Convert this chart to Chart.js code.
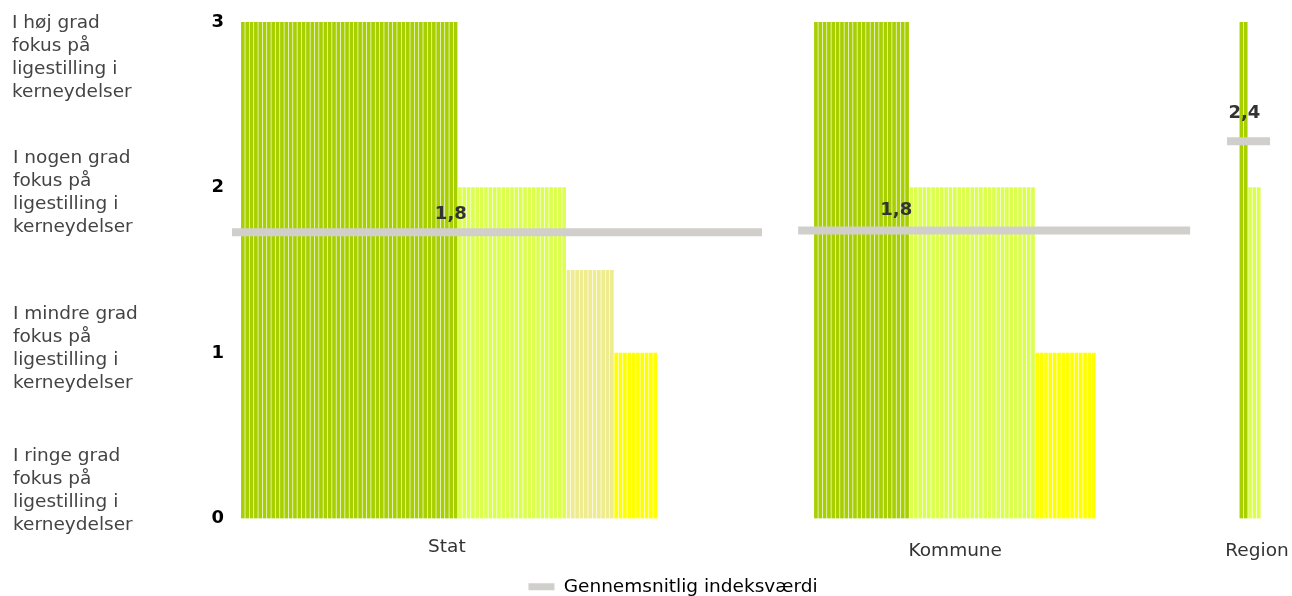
<!DOCTYPE html>
<html>
<head>
<meta charset="utf-8">
<script src="https://cdn.jsdelivr.net/npm/chart.js@4.4.1/dist/chart.umd.min.js"></script>
<style>
  html, body { margin: 0; padding: 0; background: #fff; }
</style>
</head>
<body>
<canvas id="chart" width="1292" height="596"></canvas>
<script>
// Data (one bar per response)
const groupNames = ['Stat', 'Kommune', 'Region'];
const statValues = [
    3, 3, 3, 3, 3, 3, 3, 3, 3, 3, 3, 3, 3, 3, 3, 3, 3, 3, 3, 3, 3, 3, 3, 3, 3,
    3, 3, 3, 3, 3, 3, 3, 3, 3, 3, 3, 3, 3, 3, 3, 3, 3, 3, 3, 3, 3, 3, 3, 3, 3,
    2, 2, 2, 2, 2, 2, 2, 2, 2, 2, 2, 2, 2, 2, 2, 2, 2, 2, 2, 2, 2, 2, 2, 2, 2,
    1.5, 1.5, 1.5, 1.5, 1.5, 1.5, 1.5, 1.5, 1.5, 1.5, 1.5,
    1, 1, 1, 1, 1, 1, 1, 1, 1, 1
];
const kommuneValues = [
    3, 3, 3, 3, 3, 3, 3, 3, 3, 3, 3, 3, 3, 3, 3, 3, 3, 3, 3, 3, 3, 3,
    2, 2, 2, 2, 2, 2, 2, 2, 2, 2, 2, 2, 2, 2, 2, 2, 2, 2, 2, 2, 2, 2, 2, 2, 2, 2, 2, 2, 2,
    1, 1, 1, 1, 1, 1, 1, 1, 1, 1, 1, 1, 1, 1
];
const regionValues = [3, 3, 2, 2, 2];
const avgValues = [1.73, 1.74, 2.28];
const avgLabels = ['1,8', '1,8', '2,4'];
const yTickValues = [0, 1, 2, 3];
const levelLabels = [
    ['I høj grad', 'fokus på', 'ligestilling i', 'kerneydelser'],
    ['I nogen grad', 'fokus på', 'ligestilling i', 'kerneydelser'],
    ['I mindre grad', 'fokus på', 'ligestilling i', 'kerneydelser'],
    ['I ringe grad', 'fokus på', 'ligestilling i', 'kerneydelser']
];
const legendText = 'Gennemsnitlig indeksværdi';

// Layout (slot units on the x axis)
const groupStart = [0, 132, 230];
const avgSpan = [[-2.5, 119.6], [127.9, 218.2], [226.7, 236.6]];
const avgLabelAt = [[47.9, 1.835], [150.5, 1.86], [230.7, 2.45]];
const groupLabelAt = [[47, 547], [164.1, 551], [233.6, 551]];
const levelLabelTop = [23, 158, 314, 456];

const barColors = { 3: '#a8d000', 2: '#dcff4e', 1.5: '#eeec8e', 1: '#ffff00' };
const lineColor = '#d0cfcb';
const FONT = '"DejaVu Sans", Verdana, sans-serif';

const groupValues = [statValues, kommuneValues, regionValues];

const barDatasets = groupValues.map((vals, g) => ({
    type: 'bar',
    label: groupNames[g],
    data: vals.map((v, i) => ({ x: groupStart[g] + i, y: v })),
    backgroundColor: ctx => barColors[ctx.raw ? ctx.raw.y : 3],
    barThickness: 3,
    grouped: false,
    order: 2
}));

const lineDatasets = avgValues.map((v, g) => ({
    type: 'line',
    label: 'Gennemsnit ' + groupNames[g],
    data: [{ x: avgSpan[g][0], y: v }, { x: avgSpan[g][1], y: v }],
    borderColor: lineColor,
    borderWidth: 8,
    borderCapStyle: 'butt',
    pointRadius: 0,
    order: 0
}));

// Draw the text labels around the plot
const textPlugin = {
    id: 'texts',
    afterDatasetsDraw(chart) {
        const { ctx, scales } = chart;
        ctx.save();
        ctx.textBaseline = 'middle';

        // average value labels
        ctx.font = 'bold 18px ' + FONT;
        ctx.fillStyle = '#333';
        ctx.textAlign = 'center';
        avgLabels.forEach((t, g) => {
            ctx.fillText(t, scales.x.getPixelForValue(avgLabelAt[g][0]), scales.y.getPixelForValue(avgLabelAt[g][1]));
        });

        // group names under the bars
        ctx.font = '18.5px ' + FONT;
        groupNames.forEach((t, g) => {
            ctx.fillText(t, scales.x.getPixelForValue(groupLabelAt[g][0]), groupLabelAt[g][1]);
        });

        // answer category texts on the left
        ctx.font = '18.5px ' + FONT;
        ctx.fillStyle = '#444';
        ctx.textAlign = 'left';
        levelLabels.forEach((lines, b) => {
            lines.forEach((line, i) => {
                ctx.fillText(line, b === 0 ? 12 : 13, levelLabelTop[b] + i * 23);
            });
        });
        ctx.restore();
    }
};

new Chart(document.getElementById('chart').getContext('2d'), {
    data: { datasets: [...barDatasets, ...lineDatasets] },
    options: {
        responsive: false,
        animation: false,
        layout: { padding: { top: 22, right: 2, left: 56, bottom: -10 } },
        scales: {
            x: {
                type: 'linear',
                min: -2.5,
                max: 241.2,
                offset: false,
                grid: { display: false },
                border: { display: false },
                ticks: { display: false },
                afterFit: s => { s.height = 57; }
            },
            y: {
                min: 0,
                max: 3,
                grid: { display: false, drawTicks: false },
                border: { display: false },
                afterBuildTicks: s => { s.ticks = yTickValues.map(v => ({ value: v })); },
                ticks: { color: '#000', padding: 8, font: { family: FONT, size: 18, weight: 'bold' } },
                afterFit: s => { s.width = 176; }
            }
        },
        plugins: {
            tooltip: { enabled: false },
            legend: {
                position: 'bottom',
                labels: {
                    color: '#444',
                    boxWidth: 26,
                    boxHeight: 7,
                    padding: 2,
                    font: { family: FONT, size: 18.5 },
                    generateLabels: () => [{
                        text: legendText,
                        fillStyle: lineColor,
                        strokeStyle: lineColor,
                        lineWidth: 0,
                        hidden: false
                    }]
                }
            }
        }
    },
    plugins: [textPlugin]
});
</script>
</body>
</html>
